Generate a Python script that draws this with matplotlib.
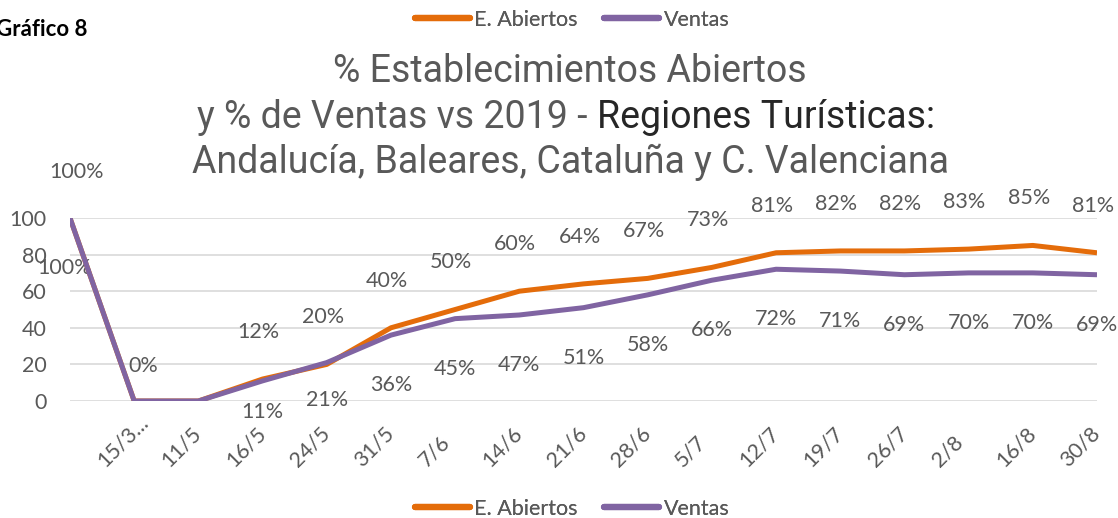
import numpy as np
import matplotlib.pyplot as plt
import matplotlib.transforms as mtransforms
from matplotlib.lines import Line2D

# ---- data -----------------------------------------------------------
fechas = ["", "15/3...", "11/5", "16/5", "24/5", "31/5", "7/6", "14/6", "21/6",
          "28/6", "5/7", "12/7", "19/7", "26/7", "2/8", "16/8", "30/8"]
abiertos = [100, 0, 0, 12, 20, 40, 50, 60, 64, 67, 73, 81, 82, 82, 83, 85, 81]
ventas = [100, 0, 0, 11, 21, 36, 45, 47, 51, 58, 66, 72, 71, 69, 70, 70, 69]
etiquetas_abiertos = [f"{v}%" for v in abiertos]
etiquetas_ventas = [f"{v}%" for v in ventas]
ocultas_abiertos = [2]          # labels Excel didn't show
ocultas_ventas = [1, 2]

c_abiertos = '#E46C0A'
c_ventas = '#8064A2'
c_texto = '#595959'
fuente = ['Lato', 'DejaVu Sans']

plt.rcParams['font.family'] = fuente
plt.rcParams['text.color'] = c_texto

f = plt.figure(figsize=(11.18, 5.18), dpi=100)
ax = f.add_axes([70/1118, 1-401/518, (1097-70)/1118, (401-218)/518])

x = np.arange(len(fechas))
ax.plot(x, abiertos, color=c_abiertos, lw=3.6, solid_capstyle='butt', zorder=3)
ax.plot(x, ventas, color=c_ventas, lw=3.6, solid_capstyle='butt', zorder=4)

ax.set_xlim(0, len(fechas)-1)
ax.set_ylim(0, 100)
ax.set_yticks(range(0, 101, 20))
ax.grid(axis='y', color='#D9D9D9', lw=1.2)
ax.set_axisbelow(True)
for s in ax.spines.values():
    s.set_visible(False)
ax.tick_params(length=0, labelsize=15.5, labelcolor=c_texto)
ax.tick_params(axis='y', pad=17)

# Excel puts the start of each rotated label a fixed distance left of its tick
ax.set_xticks(x)
ax.set_xticklabels(fechas, rotation=45, ha='left', va='baseline', rotation_mode='anchor')
desp = mtransforms.ScaledTranslation(-29/100, -62/100, f.dpi_scale_trans)
for lab in ax.get_xticklabels():
    lab.set_transform(lab.get_transform() + desp)

# data labels (offsets in px, converted to points)
off_ab = {0: (7, 46), 1: (9, 35)}
off_ve = {0: (-5, -50), 3: (0, -31), 4: (0, -37)}
for i in range(len(x)):
    if i not in ocultas_abiertos:
        dx, dy = off_ab.get(i, (-4, 47))
        ax.annotate(etiquetas_abiertos[i], (x[i], abiertos[i]), xytext=(dx*0.72, dy*0.72),
                    textcoords='offset points', ha='center', va='center',
                    fontsize=15.5, color=c_texto, annotation_clip=False)
    if i not in ocultas_ventas:
        dx, dy = off_ve.get(i, (0, -50))
        ax.annotate(etiquetas_ventas[i], (x[i], ventas[i]), xytext=(dx*0.72, dy*0.72),
                    textcoords='offset points', ha='center', va='center',
                    fontsize=15.5, color=c_texto, annotation_clip=False)

# ---- title ----------------------------------------------------------
tfont = ['Roboto', 'DejaVu Sans']
f.text(570/1118, 1-72/518, "% Establecimientos Abiertos", ha='center', va='center',
       fontsize=27, family=tfont, color=c_texto)
f.text(570/1118, 1-162/518, "Andalucía, Baleares, Cataluña y C. Valenciana", ha='center',
       va='center', fontsize=27, family=tfont, color=c_texto)
t1 = f.text(0, 1-118/518, "y % de Ventas vs 2019 - ", ha='left', va='center',
            fontsize=27, family=tfont, color=c_texto)
t2 = f.text(0, 1-118/518, "Regiones Turísticas:", ha='left', va='center',
            fontsize=27, family=tfont, color='#262626')
r = f.canvas.get_renderer()
w1 = t1.get_window_extent(r).width / f.bbox.width
w2 = t2.get_window_extent(r).width / f.bbox.width
x0 = 566/1118 - (w1 + w2)/2
t1.set_x(x0)
t2.set_x(x0 + w1)

f.text(-4/1118, 1-30/518, "Gráfico 8", ha='left', va='center', fontsize=16,
       fontweight='bold', color='black')

# ---- legends (top and bottom) --------------------------------------
handles = [Line2D([], [], color=c_abiertos, lw=4.5, solid_capstyle='round'),
           Line2D([], [], color=c_ventas, lw=4.5, solid_capstyle='round')]
nombres = ["E. Abiertos", "Ventas"]
for ypos in (1-20/518, 1-509/518):
    leg = f.legend(handles, nombres, loc='center', bbox_to_anchor=(572/1118, ypos),
                   ncol=2, frameon=False, fontsize=15.5, handlelength=2.55,
                   handletextpad=0.23, columnspacing=1.2, borderaxespad=0,
                   labelcolor=c_texto)
    f.add_artist(leg)

f.savefig('out.png', dpi=100)
